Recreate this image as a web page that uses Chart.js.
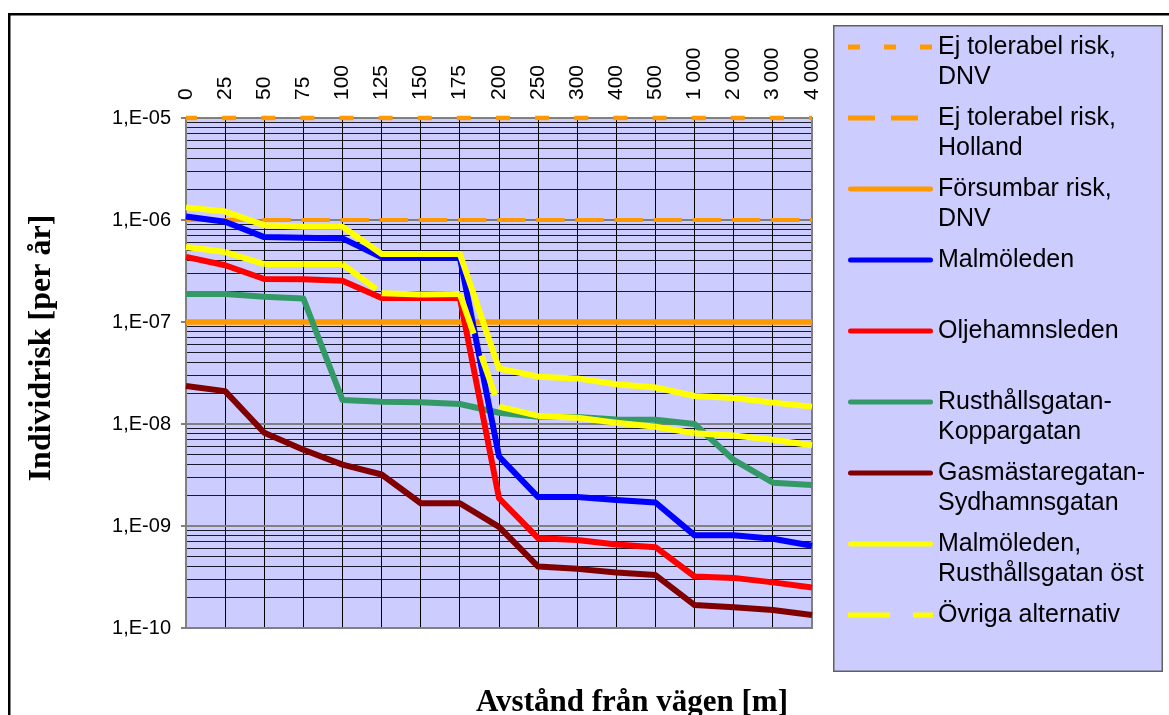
<!DOCTYPE html>
<html>
<head>
<meta charset="utf-8">
<style>
html,body{margin:0;padding:0;background:#ffffff;}
#wrap{width:1169px;height:715px;position:relative;overflow:hidden;}
</style>
<script src="https://cdn.jsdelivr.net/npm/chart.js@4.4.1/dist/chart.umd.min.js"></script>
</head>
<body>
<div id="wrap"><canvas id="c" width="1169" height="715"></canvas></div>
<script>
// ---------- data ----------
const xLabels = ['0','25','50','75','100','125','150','175','200','250','300','400','500','1 000','2 000','3 000','4 000'];

const yDecades    = [1e-10, 1e-9, 1e-8, 1e-7, 1e-6, 1e-5];
const yTickLabels = ['1,E-10','1,E-09','1,E-08','1,E-07','1,E-06','1,E-05'];
const yMinorMultipliers = [2, 3, 4, 5, 6, 7, 8, 9];

const ejTolerabelDNV     = [1e-5,1e-5,1e-5,1e-5,1e-5,1e-5,1e-5,1e-5,1e-5,1e-5,1e-5,1e-5,1e-5,1e-5,1e-5,1e-5,1e-5];
const ejTolerabelHolland = [1e-6,1e-6,1e-6,1e-6,1e-6,1e-6,1e-6,1e-6,1e-6,1e-6,1e-6,1e-6,1e-6,1e-6,1e-6,1e-6,1e-6];
const forsumbarDNV       = [1e-7,1e-7,1e-7,1e-7,1e-7,1e-7,1e-7,1e-7,1e-7,1e-7,1e-7,1e-7,1e-7,1e-7,1e-7,1e-7,1e-7];

const malmoleden      = [1.08e-6, 9.6e-7, 6.8e-7, 6.7e-7, 6.6e-7, 4.3e-7, 4.3e-7, 4.3e-7, 4.8e-9, 1.92e-9, 1.92e-9, 1.8e-9, 1.7e-9, 8.1e-10, 8.1e-10, 7.5e-10, 6.4e-10];
const oljehamnsleden  = [4.35e-7, 3.6e-7, 2.64e-7, 2.62e-7, 2.54e-7, 1.72e-7, 1.72e-7, 1.72e-7, 1.87e-9, 7.6e-10, 7.3e-10, 6.6e-10, 6.2e-10, 3.2e-10, 3.1e-10, 2.8e-10, 2.5e-10];
const rusthallKoppar  = [1.88e-7, 1.88e-7, 1.77e-7, 1.7e-7, 1.72e-8, 1.65e-8, 1.63e-8, 1.57e-8, 1.29e-8, 1.18e-8, 1.17e-8, 1.11e-8, 1.1e-8, 1.0e-8, 4.44e-9, 2.66e-9, 2.52e-9];
const gasmastareSyd   = [2.36e-8, 2.1e-8, 8.2e-9, 5.6e-9, 4.0e-9, 3.2e-9, 1.67e-9, 1.67e-9, 9.8e-10, 4.0e-10, 3.8e-10, 3.5e-10, 3.3e-10, 1.68e-10, 1.6e-10, 1.5e-10, 1.34e-10];
const malmoRusthallOst = [1.33e-6, 1.21e-6, 8.9e-7, 8.6e-7, 8.6e-7, 4.65e-7, 4.65e-7, 4.65e-7, 3.5e-8, 2.91e-8, 2.8e-8, 2.45e-8, 2.28e-8, 1.88e-8, 1.8e-8, 1.62e-8, 1.48e-8];
const ovrigaAlternativ = [5.43e-7, 4.85e-7, 3.7e-7, 3.7e-7, 3.7e-7, 1.91e-7, 1.86e-7, 1.88e-7, 1.48e-8, 1.2e-8, 1.15e-8, 1.03e-8, 9.4e-9, 8.1e-9, 7.7e-9, 7.0e-9, 6.2e-9];

// ---------- chart ----------
const SANS = '"Liberation Sans", Arial, sans-serif';
const SERIF = '"Liberation Serif", "Times New Roman", serif';
Chart.defaults.font.family = SANS;

const yGridValues = [];
yDecades.forEach((d, i) => {
  yGridValues.push(d);
  if (i < yDecades.length - 1) yMinorMultipliers.forEach(m => yGridValues.push(m * d));
});
function isDecade(v) {
  const l = Math.log10(v);
  return Math.abs(l - Math.round(l)) < 1e-6;
}

function series(label, data, color, width, extra) {
  return Object.assign({
    label, data,
    borderColor: color, backgroundColor: color,
    borderWidth: width, pointRadius: 0, pointHoverRadius: 0,
    fill: false, tension: 0, clip: 8,
    borderJoinStyle: 'round', borderCapStyle: 'butt'
  }, extra || {});
}

const datasets = [
  series('Ej tolerabel risk,\nDNV', ejTolerabelDNV, '#FF9900', 4.5,
    {borderDash: [14, 25.125], borderDashOffset: 3, order: 9, legendDash: [12, 24]}),
  series('Ej tolerabel risk,\nHolland', ejTolerabelHolland, '#FF9900', 4,
    {borderDash: [28.5, 10.625], borderDashOffset: 2, order: 8, legendDash: [27, 16]}),
  series('Försumbar risk,\nDNV', forsumbarDNV, '#FF9900', 5.5, {order: 7}),
  series('Malmöleden', malmoleden, '#0000FF', 6, {order: 4}),
  series('Oljehamnsleden', oljehamnsleden, '#FF0000', 6, {order: 3}),
  series('Rusthållsgatan-\nKoppargatan', rusthallKoppar, '#339966', 6, {order: 6}),
  series('Gasmästaregatan-\nSydhamnsgatan', gasmastareSyd, '#800000', 6, {order: 5}),
  series('Malmöleden,\nRusthållsgatan öst', malmoRusthallOst, '#FFFF00', 6, {order: 2}),
  series('Övriga alternativ', ovrigaAlternativ, '#FFFF00', 6, {
    order: 1, borderDash: [42, 23], legendDash: [42, 23],
    // restart the dash pattern at every data point
    segment: {borderDashOffset: c => (c.p0DataIndex % 2) * 0.001}
  })
];

const decorPlugin = {
  id: 'decor',
  beforeDraw(chart) {
    const {ctx, chartArea: a} = chart;
    ctx.save();
    ctx.fillStyle = '#FFFFFF';
    ctx.fillRect(0, 0, chart.width, chart.height);
    ctx.fillStyle = '#CCCCFF';
    ctx.fillRect(a.left, a.top, a.right - a.left, a.bottom - a.top);
    ctx.restore();
  },
  beforeDatasetsDraw(chart) {
    const {ctx, chartArea: a} = chart;
    ctx.save();
    ctx.strokeStyle = '#808080';
    ctx.lineWidth = 2;
    ctx.strokeRect(a.left, a.top, a.right - a.left, a.bottom - a.top);
    ctx.restore();
  },
  afterDraw(chart) {
    const ctx = chart.ctx;
    ctx.save();
    // outer chart frame
    ctx.strokeStyle = '#000000';
    ctx.lineWidth = 2.5;
    ctx.strokeRect(9.25, 14.25, 1300, 900);

    // axis titles
    ctx.fillStyle = '#000000';
    ctx.font = 'bold 31px ' + SERIF;
    ctx.textAlign = 'center';
    ctx.textBaseline = 'alphabetic';
    ctx.fillText('Avstånd från vägen [m]', 632, 711);

    ctx.save();
    ctx.translate(50, 348);
    ctx.rotate(-Math.PI / 2);
    ctx.font = 'bold 32px ' + SERIF;
    ctx.fillText('Individrisk [per år]', 0, 0);
    ctx.restore();

    // legend
    ctx.fillStyle = '#CCCCFF';
    ctx.fillRect(833, 25, 329, 646);
    ctx.strokeStyle = '#606060';
    ctx.lineWidth = 1.5;
    ctx.strokeRect(833.75, 25.75, 328.5, 645.5);

    chart.data.datasets.forEach((ds, i) => {
      const y = 47 + i * 71;
      ctx.save();
      ctx.beginPath();
      ctx.strokeStyle = ds.borderColor;
      ctx.lineWidth = 5;
      if (ds.legendDash) {
        ctx.setLineDash(ds.legendDash);
        ctx.lineCap = 'butt';
        ctx.moveTo(848, y); ctx.lineTo(933, y);
      } else {
        ctx.lineCap = 'round';
        ctx.moveTo(850.5, y); ctx.lineTo(930.5, y);
      }
      ctx.stroke();
      ctx.restore();
      ctx.fillStyle = '#000000';
      ctx.font = '25px ' + SANS;
      ctx.textAlign = 'left';
      ctx.textBaseline = 'alphabetic';
      ds.label.split('\n').forEach((line, k) => {
        ctx.fillText(line, 938, y + 6.5 + k * 30);
      });
    });
    ctx.restore();
  }
};

new Chart(document.getElementById('c'), {
  type: 'line',
  data: {labels: xLabels, datasets},
  options: {
    responsive: false,
    animation: false,
    devicePixelRatio: 1,
    layout: {padding: {left: 0, top: 0, right: 357, bottom: 87}},
    plugins: {legend: {display: false}, title: {display: false}, tooltip: {enabled: false}},
    events: [],
    scales: {
      x: {
        type: 'category',
        position: 'top',
        offset: false,
        afterFit: s => { s.height = 118; },
        grid: {color: '#000000', lineWidth: 1, drawTicks: false},
        border: {display: true, color: '#808080', width: 2},
        ticks: {
          autoSkip: false, minRotation: 90, maxRotation: 90,
          padding: 18, labelOffset: 25, color: '#000000',
          font: {family: SANS, size: 21}
        }
      },
      y: {
        type: 'logarithmic',
        position: 'left',
        min: 1e-10,
        max: 1e-5,
        afterFit: s => { s.width = 186; },
        afterBuildTicks: s => { s.ticks = yGridValues.map(v => ({value: v})); },
        grid: {
          color: c => isDecade(c.tick.value) ? '#808080' : '#1a1a2a',
          lineWidth: c => isDecade(c.tick.value) ? 2 : 1,
          tickColor: c => isDecade(c.tick.value) ? '#808080' : 'rgba(0,0,0,0)',
          tickLength: 5,
          drawTicks: true
        },
        border: {display: true, color: '#808080', width: 2},
        ticks: {
          autoSkip: false, padding: 10, color: '#000000',
          font: {family: SANS, size: 20},
          callback: v => {
            const i = yDecades.findIndex(d => Math.abs(d - v) / d < 1e-9);
            return i >= 0 ? yTickLabels[i] : '';
          }
        }
      }
    }
  },
  plugins: [decorPlugin]
});
</script>
</body>
</html>
